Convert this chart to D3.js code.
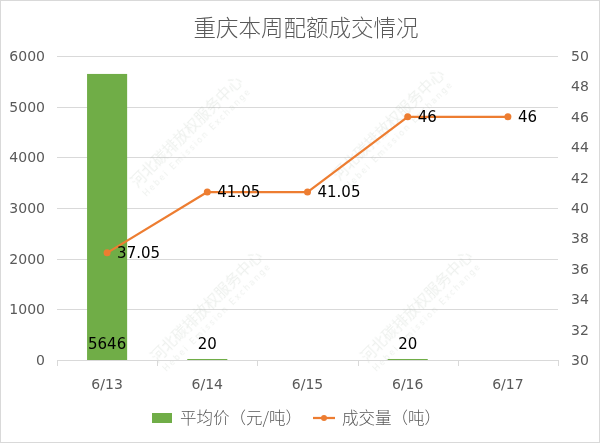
<!DOCTYPE html>
<html><head><meta charset="utf-8">
<script src="https://cdn.jsdelivr.net/npm/d3@7"></script>
<style>body{margin:0;background:#fff}svg{display:block}</style>
</head><body>
<svg id="c" width="600" height="443"></svg>
<script>
const title = "重庆本周配额成交情况";
const categories = ["6/13","6/14","6/15","6/16","6/17"];
const barValues = [5646, 20, 0, 20, 0];
const barLabels = ["5646","20","","20",""];
const lineValues = [37.05, 41.05, 41.05, 46, 46];
const leftTicks = [0,1000,2000,3000,4000,5000,6000];
const rightTicks = [30,32,34,36,38,40,42,44,46,48,50];
const barName = "平均价（元/吨）";
const lineName = "成交量（吨）";

const svg = d3.select("#c");
const W = 600, H = 443;
const m = {l:57, r:558, t:56, b:360};
const green = "#70ad47", orange = "#ed7d31", grid = "#d9d9d9", txt = "#595959";
const numFont = "'DejaVu Sans', Verdana, sans-serif";
const cjk = "'Noto Sans CJK SC', sans-serif";

svg.append("rect").attr("x",0.5).attr("y",0.5).attr("width",W-1).attr("height",H-1)
  .attr("fill","#fff").attr("stroke","#d9d9d9");

const x = d3.scaleBand().domain(categories).range([m.l, m.r]).paddingInner(0.6).paddingOuter(0.3);
const xb = d3.scaleBand().domain(categories).range([m.l, m.r]);
const yL = d3.scaleLinear().domain([0,6000]).range([m.b, m.t]);
const yR = d3.scaleLinear().domain([30,50]).range([m.b, m.t]);

// gridlines
svg.append("g").selectAll("line").data(leftTicks.filter(d=>d>0)).join("line")
  .attr("x1",m.l).attr("x2",m.r).attr("y1",d=>Math.round(yL(d))+0.5).attr("y2",d=>Math.round(yL(d))+0.5)
  .attr("stroke",grid).attr("stroke-width",1);

// watermarks
const wm = [[190,135],[210,310],[392,128],[420,310]];
const wg = svg.append("g").attr("opacity",0.2);
wm.forEach(([cx,cy])=>{
  const g = wg.append("g").attr("transform",`translate(${cx},${cy}) rotate(-45)`);
  g.append("text").attr("text-anchor","middle").attr("font-family",cjk).attr("font-size",15)
    .attr("fill","#aab8aa").text("河北碳排放权服务中心");
  g.append("text").attr("y",13).attr("text-anchor","middle").attr("font-family",numFont).attr("font-size",8)
    .attr("letter-spacing",2).attr("fill","#aab8aa").text("Hebei Emission Exchange");
});

// bars
svg.append("g").selectAll("rect").data(categories).join("rect")
  .attr("x",d=>x(d)).attr("width",x.bandwidth())
  .attr("y",(d,i)=>yL(barValues[i])).attr("height",(d,i)=>m.b-yL(barValues[i]))
  .attr("fill",green);

// x axis
const xg = svg.append("g").attr("transform",`translate(0,${m.b})`);
xg.append("line").attr("x1",m.l).attr("x2",m.r).attr("y1",0.5).attr("y2",0.5).attr("stroke",grid);
const tickPos = [m.l, ...categories.map(c=>xb(c)+xb.bandwidth())];
xg.selectAll("line.t").data(tickPos).join("line").attr("class","t")
  .attr("x1",d=>Math.round(d)+0.5).attr("x2",d=>Math.round(d)+0.5).attr("y1",0).attr("y2",6).attr("stroke",grid);
xg.selectAll("text").data(categories).join("text")
  .attr("x",d=>xb(d)+xb.bandwidth()/2).attr("y",29).attr("text-anchor","middle")
  .attr("font-family",numFont).attr("font-size",14).attr("fill",txt).text(d=>d);

// left axis
svg.append("g").selectAll("text").data(leftTicks).join("text")
  .attr("x",45).attr("y",d=>yL(d)+5).attr("text-anchor","end")
  .attr("font-family",numFont).attr("font-size",14).attr("fill",txt).text(d=>d);
// right axis
svg.append("g").selectAll("text").data(rightTicks).join("text")
  .attr("x",571).attr("y",d=>yR(d)+5).attr("text-anchor","start")
  .attr("font-family",numFont).attr("font-size",14).attr("fill",txt).text(d=>d);

// bar labels
svg.append("g").selectAll("text").data(categories).join("text")
  .attr("x",d=>xb(d)+xb.bandwidth()/2).attr("y",m.b-11).attr("text-anchor","middle")
  .attr("font-family",numFont).attr("font-size",15).attr("fill","#000")
  .text((d,i)=>barLabels[i]);

// line
const cx = d=>xb(d)+xb.bandwidth()/2;
const line = d3.line().x((d,i)=>cx(categories[i])).y(d=>yR(d));
svg.append("path").datum(lineValues).attr("d",line).attr("fill","none")
  .attr("stroke",orange).attr("stroke-width",2.25).attr("stroke-linejoin","round");
svg.append("g").selectAll("circle").data(lineValues).join("circle")
  .attr("cx",(d,i)=>cx(categories[i])).attr("cy",d=>yR(d)).attr("r",3.5).attr("fill",orange);
svg.append("g").selectAll("text").data(lineValues).join("text")
  .attr("x",(d,i)=>cx(categories[i])+10).attr("y",d=>yR(d)+5)
  .attr("font-family",numFont).attr("font-size",15).attr("fill","#000").text(d=>d);

// title
svg.append("text").attr("x",306).attr("y",36).attr("text-anchor","middle")
  .attr("font-family",cjk).attr("font-weight",300).attr("font-size",22.5).attr("fill",txt).text(title);

// legend
const lg = svg.append("g");
lg.append("rect").attr("x",152).attr("y",413).attr("width",20).attr("height",10).attr("fill",green);
lg.append("text").attr("x",180).attr("y",424).attr("font-family",cjk).attr("font-weight",300).attr("font-size",16.5)
  .attr("fill",txt).text(barName);
lg.append("line").attr("x1",313).attr("x2",335).attr("y1",418).attr("y2",418).attr("stroke",orange).attr("stroke-width",2.25);
lg.append("circle").attr("cx",324).attr("cy",418).attr("r",3).attr("fill",orange);
lg.append("text").attr("x",342).attr("y",424).attr("font-family",cjk).attr("font-weight",300).attr("font-size",16.5)
  .attr("fill",txt).text(lineName);
</script>
</body></html>
